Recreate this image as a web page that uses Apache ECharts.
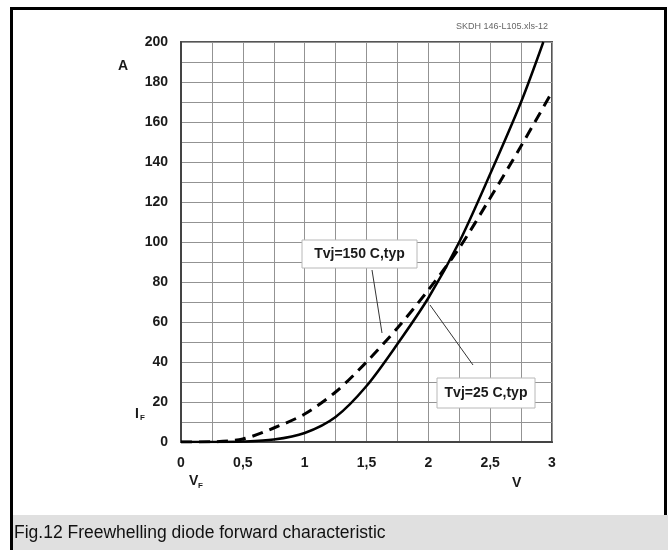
<!DOCTYPE html>
<html>
<head>
<meta charset="utf-8">
<script src="https://cdn.jsdelivr.net/npm/echarts@6/dist/echarts.min.js"></script>
<style>
  html, body { margin: 0; padding: 0; background: #fff; }
  #chart { width: 668px; height: 550px; }
</style>
</head>
<body>
<div id="chart"></div>
<script>
// forward voltage (V) / current (A)
const vCold = [0, 0.25, 0.5, 0.75, 1, 1.25, 1.5, 1.75, 2, 2.25, 2.5, 2.75, 2.93]
const iCold = [0, 0, 0.2, 1.2, 4.5, 12.5, 28, 49, 72, 100, 134, 170, 200]
const vHot = [0, 0.25, 0.5, 0.75, 1, 1.25, 1.5, 1.75, 2, 2.25, 2.5, 2.75, 3]
const iHot = [0, 0.1, 1.5, 7, 14, 25, 40, 57, 76, 97, 122, 148, 175]

const xTickLabels = ['0', '0,5', '1', '1,5', '2', '2,5', '3']
const yTickLabels = ['0', '20', '40', '60', '80', '100', '120', '140', '160', '180', '200']

const seriesNames = ['Tvj=25 C,typ', 'Tvj=150 C,typ']

const FONT = 'Liberation Sans, Arial, sans-serif'
const gridColor = '#939393'

const chart = echarts.init(document.getElementById('chart'))

function toPairs(xs, ys) {
  return xs.map((x, i) => [x, ys[i]])
}

function label(x, y, text, opts) {
  return {
    type: 'text',
    x: x,
    y: y,
    z: 110,
    style: Object.assign({
      text: text,
      fontFamily: FONT,
      fontSize: 14,
      fontWeight: 'bold',
      fill: '#1a1a1a',
      align: 'left',
      verticalAlign: 'middle'
    }, opts || {})
  }
}

function tagBox(x, y, w, h, text) {
  return [
    {
      type: 'rect',
      z: 105,
      shape: { x: x, y: y, width: w, height: h },
      style: { fill: '#fff', stroke: '#b8b8b8', lineWidth: 1 }
    },
    label(x + w / 2, y + h / 2, text, { align: 'center' })
  ]
}

function leader(x1, y1, x2, y2) {
  return {
    type: 'line',
    z: 105,
    shape: { x1: x1, y1: y1, x2: x2, y2: y2 },
    style: { stroke: '#333', lineWidth: 1 }
  }
}

chart.setOption({
  animation: false,
  backgroundColor: '#fff',
  grid: {
    left: 181,
    top: 42,
    width: 371,
    height: 400,
    show: true,
    borderColor: '#555',
    borderWidth: 2,
    backgroundColor: '#fff'
  },
  xAxis: {
    type: 'value',
    min: 0,
    max: 3,
    interval: 0.5,
    axisLine: { show: true, lineStyle: { color: '#444', width: 2 } },
    axisTick: { show: false },
    axisLabel: {
      margin: 14,
      color: '#1a1a1a',
      fontFamily: FONT,
      fontSize: 14,
      fontWeight: 'bold',
      formatter: v => xTickLabels[Math.round(v / 0.5)]
    },
    splitLine: { show: true, lineStyle: { color: gridColor, width: 1 } },
    minorTick: { show: false, splitNumber: 2 },
    minorSplitLine: { show: true, lineStyle: { color: gridColor, width: 1 } }
  },
  yAxis: {
    type: 'value',
    min: 0,
    max: 200,
    interval: 20,
    axisLine: { show: true, lineStyle: { color: '#444', width: 2 } },
    axisTick: { show: false },
    axisLabel: {
      margin: 13,
      color: '#1a1a1a',
      fontFamily: FONT,
      fontSize: 14,
      fontWeight: 'bold',
      formatter: v => yTickLabels[Math.round(v / 20)]
    },
    splitLine: { show: true, lineStyle: { color: gridColor, width: 1 } },
    minorTick: { show: false, splitNumber: 2 },
    minorSplitLine: { show: true, lineStyle: { color: gridColor, width: 1 } }
  },
  series: [
    {
      name: seriesNames[0],
      type: 'line',
      data: toPairs(vCold, iCold),
      smooth: 0.3,
      showSymbol: false,
      lineStyle: { color: '#000', width: 2.5 },
      z: 5
    },
    {
      name: seriesNames[1],
      type: 'line',
      data: toPairs(vHot, iHot),
      smooth: 0.3,
      showSymbol: false,
      lineStyle: { color: '#000', width: 3, type: [11, 7] },
      z: 4
    }
  ],
  graphic: [
    // outer frame + caption strip
    {
      type: 'rect',
      z: 100,
      shape: { x: 11.5, y: 8.5, width: 654, height: 600 },
      style: { fill: 'none', stroke: '#000', lineWidth: 3 }
    },
    {
      type: 'rect',
      z: 101,
      shape: { x: 13, y: 515, width: 655, height: 35 },
      style: { fill: '#e0e0e0' }
    },
    label(14, 533, 'Fig.12 Freewhelling diode forward characteristic', {
      fontWeight: 'normal', fontSize: 17.5, fill: '#111'
    }),
    label(548, 27, 'SKDH 146-L105.xls-12', {
      fontWeight: 'normal', fontSize: 9, fill: '#666', align: 'right'
    }),
    // axis names
    label(118, 66, 'A'),
    label(135, 414, 'I'),
    label(140, 418, 'F', { fontSize: 8 }),
    label(189, 481, 'V'),
    label(198, 486, 'F', { fontSize: 8 }),
    label(512, 483, 'V'),
    // curve tags
    leader(372, 270, 382, 333),
    leader(430, 305, 473, 365),
    ...tagBox(302, 240, 115, 28, seriesNames[1]),
    ...tagBox(437, 378, 98, 30, seriesNames[0])
  ]
})
</script>
</body>
</html>
